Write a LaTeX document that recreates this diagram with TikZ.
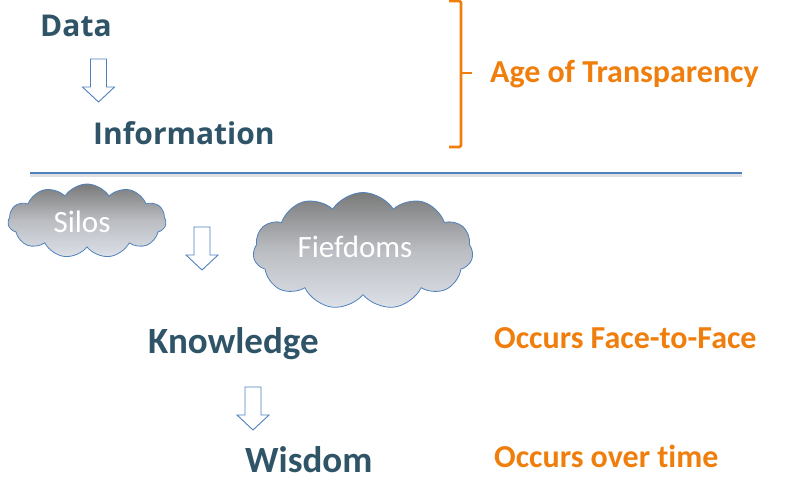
\documentclass[tikz,border=0pt]{standalone}
\usepackage{fontspec}
\setmainfont{Carlito}[Ligatures=NoCommon]
\newfontfamily\hdfont{Open Sans}
\usetikzlibrary{shapes.symbols,shadows}
\definecolor{slate}{HTML}{2F5467}
\definecolor{orng}{HTML}{F07E0C}
\definecolor{blueline}{HTML}{4F81BD}
\definecolor{cloudtop}{HTML}{7A7A7A}
\definecolor{cloudbot}{HTML}{DDE1E8}
\tikzset{
  title/.style={anchor=base west, inner sep=0pt, text=slate, font=\bfseries\fontsize{37}{42}\selectfont},
  hd/.style={anchor=base west, inner sep=0pt, text=slate, font=\hdfont\bfseries\fontsize{30}{36}\selectfont},
  note/.style={anchor=base west, inner sep=0pt, text=orng, font=\bfseries\fontsize{32}{38}\selectfont},
  cloudbox/.style={cloud, cloud puffs=11, cloud puff arc=115, draw=blueline, line width=0.8pt,
     top color=cloudtop, bottom color=cloudbot, middle color=cloudtop!35!cloudbot, inner sep=0pt},
  cloudtext/.style={text=white, font=\fontsize{31}{36}\selectfont, inner sep=0pt},
  hollowarrow/.style={draw=blueline, line width=0.9pt, fill=white, line join=miter},
  pics/downarrow/.style={code={
    \draw[hollowarrow] (-8,0) -- (8,0) -- (8,28) -- (16,28) -- (0,43) -- (-16,28) -- (-8,28) -- cycle;
  }}
}
\begin{document}
\begin{tikzpicture}[x=1pt,y=-1pt]
\useasboundingbox (0,0) rectangle (795,480);

% upper part
\node[hd] (data) at (40,36) {Data};
\node[hd] (info) at (93,144) {Information};
\pic at (98.5,59) {downarrow};

% bracket
\coordinate (bt) at (449,1);
\coordinate (bb) at (449,147);
\coordinate (bm) at (461,73);
\draw[orng, line width=2.6pt, rounded corners=1.5pt] (bt) -- ++(12,0) -- ++(0,146) -- (bb);
\draw[orng, line width=2.6pt] (bm) -- ++(11,0);
\node[note] (age) at (490,82) {Age of Transparency};

% divider
\coordinate (l1) at (30,173);
\coordinate (l2) at (742,173);
\draw[line width=4pt, black!12] ([yshift=-1.5pt]l1) -- ([yshift=-1.5pt]l2);
\draw[blueline, line width=2.6pt] (l1) -- (l2);

% clouds
\node[cloudbox, minimum width=158pt, minimum height=74pt] (silos) at (87,221) {};
\node[cloudtext] (silost) at (82,222) {Silos};
\node[cloudbox, minimum width=220pt, minimum height=117pt] (fief) at (363,251) {};
\node[cloudtext] (fieft) at (355,247) {Fiefdoms};
\pic at (202,227) {downarrow};

% lower part
\node[title] (know) at (148,353) {Knowledge};
\pic at (253,387) {downarrow};
\node[title] (wis) at (245,472) {Wisdom};
\node[note] (f2f) at (494,348) {Occurs Face-to-Face};
\node[note] (time) at (494,467) {Occurs over time};
\end{tikzpicture}
\end{document}
